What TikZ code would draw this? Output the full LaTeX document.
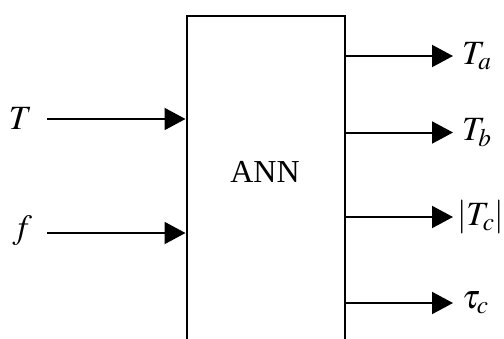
\documentclass[tikz,border=0pt]{standalone}
\usepackage{mathptmx}
\usepackage[no-math]{fontspec}
\setmainfont{Liberation Serif}
\usetikzlibrary{arrows.meta}

\begin{document}
\begin{tikzpicture}[x=0.5pt, y=-0.5pt, line width=1pt,
    >={Triangle[length=10.5pt, width=11pt]},
    font=\fontsize{17}{20}\selectfont]
    \useasboundingbox (0,0) rectangle (504,338);

    % --- ANN block (open at the bottom edge) ---
    \node[draw, minimum width=79.25pt, minimum height=172.25pt, inner sep=0pt]
        (ann) at (265.75,187.75) {};
    \node[font=\fontsize{16}{19}\selectfont] (annLabel) at (265,172) {ANN};

    % --- Inputs ---
    \node[anchor=east, inner sep=0pt] (inT) at (33,118) {$T$};
    \node[anchor=east, inner sep=0pt] (inF) at (33,231) {$f$};
    \draw[->] ([xshift=7pt]inT.east |- 0,119) -- (ann.west |- 0,119);
    \draw[->] ([xshift=7pt]inF.east |- 0,233) -- (ann.west |- 0,233);

    % --- Outputs ---
    \node[anchor=west, inner sep=4pt] (outTa) at (453,56) {$T_a$};
    \node[anchor=west, inner sep=4pt] (outTb) at (453,132.5) {$T_b$};
    \node[anchor=west, inner sep=1.5pt] (outTc) at (453,217) {$\left|T_c\right|$};
    \node[anchor=west, inner sep=4pt] (outTau) at (453,303) {$\tau_c$};
    \foreach \o in {outTa, outTb, outTc, outTau}
        \draw[->] (\o.west -| ann.east) -- (\o.west);
\end{tikzpicture}
\end{document}
